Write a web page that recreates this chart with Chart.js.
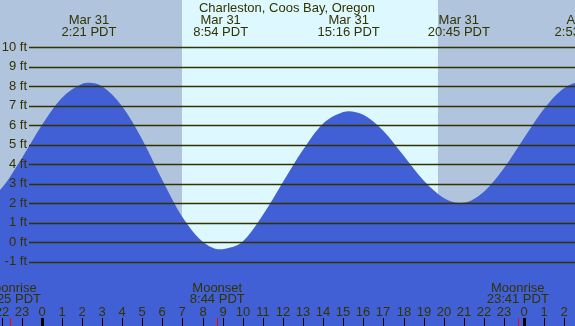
<!DOCTYPE html>
<html>
<head>
<meta charset="utf-8">
<script src="https://cdn.jsdelivr.net/npm/chart.js@4"></script>
<style>
  body { margin: 0; background: #b0c4de; }
  #wrap { width: 575px; height: 326px; }
</style>
</head>
<body>
<div id="wrap"><canvas id="tideChart"></canvas></div>
<script>
// hours from midnight Mar 31 (PDT), tide height in ft
const tideHours = [-3.3, -3, -2, -1, 0, 1, 2, 2.35, 3, 4, 5, 6, 7, 8, 8.9, 9, 10, 11, 12, 13, 14, 15, 15.27, 16, 17, 18, 19, 20, 20.75, 21, 22, 23, 24, 25, 26, 26.88, 27];
const tideFeet = [2.0, 2.04, 2.77, 4.3, 6.0, 7.4, 8.12, 8.18, 8.0, 6.98, 5.28, 3.2, 1.3, 0.05, -0.36, -0.35, 0.05, 1.4, 3.1, 4.75, 6.1, 6.69, 6.73, 6.54, 5.71, 4.45, 3.17, 2.28, 2.03, 2.04, 2.6, 3.81, 5.37, 6.87, 7.92, 8.22, 8.21];

const extremeHours = [2.35, 8.9, 15.27, 20.75, 26.88];
const extremeDates = ["Mar 31", "Mar 31", "Mar 31", "Mar 31", "Apr 1"];
const extremeTimes = ["2:21 PDT", "8:54 PDT", "15:16 PDT", "20:45 PDT", "2:53 PDT"];

const moonHours = [-1.583, 8.733, 23.683];
const moonNames = ["Moonrise", "Moonset", "Moonrise"];
const moonTimes = ["22:25 PDT", "8:44 PDT", "23:41 PDT"];

const sunrise = 6.98;
const sunset = 19.72;

const ftTicks = [-1, 0, 1, 2, 3, 4, 5, 6, 7, 8, 9, 10];
const ftLabels = ["-1 ft", "0 ft", "1 ft", "2 ft", "3 ft", "4 ft", "5 ft", "6 ft", "7 ft", "8 ft", "9 ft", "10 ft"];

const hourTicks = [-2, -1, 0, 1, 2, 3, 4, 5, 6, 7, 8, 9, 10, 11, 12, 13, 14, 15, 16, 17, 18, 19, 20, 21, 22, 23, 24, 25, 26];
const hourLabels = ["22", "23", "0", "1", "2", "3", "4", "5", "6", "7", "8", "9", "10", "11", "12", "13", "14", "15", "16", "17", "18", "19", "20", "21", "22", "23", "0", "1", "2"];

const title = "Charleston, Coos Bay, Oregon";

const ink = "#333300";
const font = "13px 'Liberation Sans', Arial, sans-serif";

const tidePlugin = {
  id: "tideDecor",
  beforeDatasetsDraw(chart) {
    const { ctx, chartArea, scales } = chart;
    const x = scales.x;
    ctx.save();
    ctx.fillStyle = "#b0c4de";
    ctx.fillRect(chartArea.left, chartArea.top, chartArea.width, chartArea.height);
    const x0 = Math.round(x.getPixelForValue(sunrise));
    const x1 = Math.round(x.getPixelForValue(sunset));
    ctx.fillStyle = "#ddf8ff";
    ctx.fillRect(x0, chartArea.top, x1 - x0, chartArea.height);
    ctx.restore();
  },
  afterDatasetsDraw(chart) {
    const { ctx, chartArea, scales } = chart;
    const x = scales.x, y = scales.y;
    ctx.save();

    // horizontal ft lines
    ctx.strokeStyle = ink;
    ctx.lineWidth = 1.3;
    ftTicks.forEach(v => {
      const py = Math.round(y.getPixelForValue(v)) + 0.5;
      ctx.beginPath();
      ctx.moveTo(29, py);
      ctx.lineTo(chartArea.right, py);
      ctx.stroke();
    });

    ctx.fillStyle = ink;
    ctx.font = font;
    ctx.textBaseline = "middle";
    ctx.textAlign = "right";
    ftTicks.forEach((v, i) => {
      ctx.fillText(ftLabels[i], 27, y.getPixelForValue(v));
    });

    // title and tide extremes
    ctx.textAlign = "center";
    ctx.fillText(title, 287, 8);
    extremeHours.forEach((h, i) => {
      const px = x.getPixelForValue(h);
      ctx.fillText(extremeDates[i], px, 20);
      ctx.fillText(extremeTimes[i], px, 32);
    });

    // moon events
    moonHours.forEach((h, i) => {
      const px = x.getPixelForValue(h);
      ctx.fillText(moonNames[i], px, 288);
      ctx.fillText(moonTimes[i], px, 299);
    });

    // hour labels and ticks
    hourTicks.forEach((h, i) => {
      const px = Math.round(x.getPixelForValue(h));
      ctx.fillText(hourLabels[i], px, 312);
      const midnight = hourLabels[i] === "0";
      ctx.fillStyle = "#000000";
      ctx.fillRect(midnight ? px - 1 : px, 318, midnight ? 3 : 1, 8);
      ctx.fillStyle = ink;
    });
    ctx.fillStyle = "#ff0000";
    moonHours.forEach(h => {
      const px = Math.round(x.getPixelForValue(h));
      ctx.fillRect(px, 318, 1, 8);
    });
    ctx.restore();
  }
};

new Chart(document.getElementById("tideChart").getContext("2d"), {
  type: "line",
  data: {
    datasets: [
      {
        label: "Tide",
        data: tideHours.map((h, i) => ({ x: h, y: tideFeet[i] })),
        borderWidth: 0,
        borderColor: "rgba(0,0,0,0)",
        backgroundColor: "#4160d6",
        fill: "start",
        pointRadius: 0,
        cubicInterpolationMode: "monotone"
      }
    ]
  },
  options: {
    responsive: true,
    maintainAspectRatio: false,
    animation: false,
    layout: { padding: 0 },
    plugins: { legend: { display: false }, tooltip: { enabled: false } },
    scales: {
      x: { type: "linear", display: false, min: -2.075, max: 26.53 },
      y: { type: "linear", display: false, min: -4.29, max: 12.43 }
    }
  },
  plugins: [tidePlugin]
});
</script>
</body>
</html>
